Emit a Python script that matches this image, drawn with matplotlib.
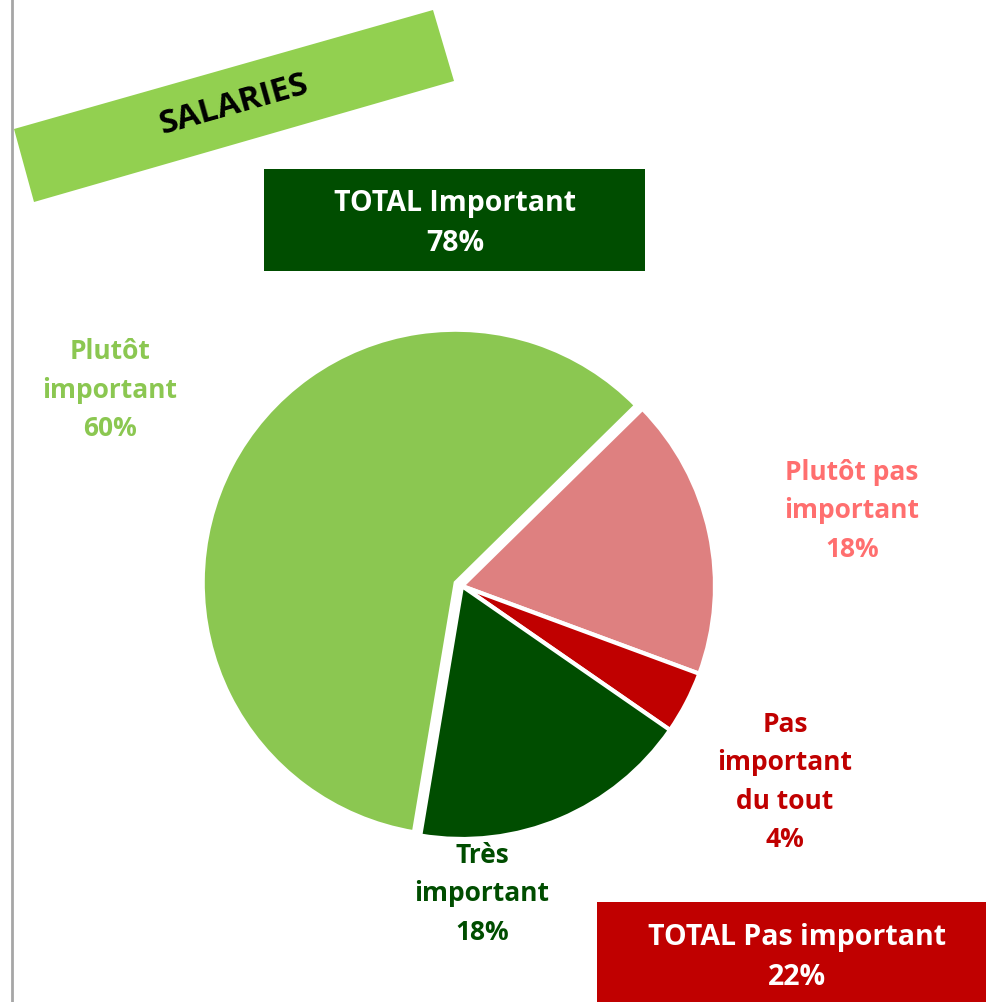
import matplotlib
matplotlib.use("Agg")
import matplotlib.pyplot as plt
from matplotlib.patches import Polygon, Rectangle

# ---- data ----
categories = ["Plutôt pas important", "Pas important du tout", "Très important", "Plutôt important"]
values = [18, 4, 18, 60]
slice_colors = ["#DE8080", "#C00000", "#004D00", "#8BC751"]
explode_frac = [0, 0, 0, 0.028]
label_texts = ["Plutôt pas\nimportant\n18%", "Pas\nimportant\ndu tout\n4%",
               "Très\nimportant\n18%", "Plutôt\nimportant\n60%"]
label_colors = ["#FF6F6F", "#C00000", "#004D00", "#8BC751"]
title_text = "SALARIES"
total_important = "TOTAL Important\n78%"
total_pas = "TOTAL Pas important\n22%"

W, H = 987, 1003
plt.rcParams['font.family'] = ['Open Sans', 'DejaVu Sans']
fig = plt.figure(figsize=(W / 100, H / 100), dpi=100)
ax = fig.add_axes([0, 0, 1, 1])
ax.set_xlim(0, W)
ax.set_ylim(0, H)
ax.set_aspect('equal')
ax.axis('off')

def Y(y):
    return H - y

# left grey line
ax.plot([12, 12], [0, H], color="#A6A6A6", lw=2, solid_capstyle='butt')

# pie
R = 253
ax.pie(values, colors=slice_colors, explode=[e * R for e in explode_frac], startangle=44.5,
       counterclock=False, center=(462, Y(587)), radius=R,
       wedgeprops=dict(edgecolor='white', linewidth=3))
ax.set_xlim(0, W)
ax.set_ylim(0, H)

# title band
band = [(14, 130), (433, 11), (454, 82), (34, 203)]
ax.add_patch(Polygon([(x, Y(y)) for x, y in band], closed=True, facecolor="#92D050", edgecolor='none'))
ax.text(234, Y(105), title_text, rotation=15.8, rotation_mode='anchor', ha='center', va='center',
        fontsize=24, fontweight='bold', color='black')

FS = 19
LS = 1.55
# total boxes
ax.add_patch(Rectangle((264, Y(272)), 381, 102, facecolor="#004D00", edgecolor='none'))
ax.text(455, Y(223), total_important, ha='center', va='center', fontsize=20.5, fontweight='bold',
        color='white', linespacing=1.5)
ax.add_patch(Rectangle((597, Y(1003)), 390, 100, facecolor="#C00000", edgecolor='none'))
ax.text(797, Y(958), total_pas, ha='center', va='center', fontsize=20.5, fontweight='bold',
        color='white', linespacing=1.5)

# slice labels
label_pos = [(852, 511), (785, 782), (482, 894), (110, 390)]
for txt, col, (x, y) in zip(label_texts, label_colors, label_pos):
    ax.text(x, Y(y), txt, ha='center', va='center', fontsize=FS, fontweight='bold',
            color=col, linespacing=LS)

fig.savefig("out.png", dpi=100)
